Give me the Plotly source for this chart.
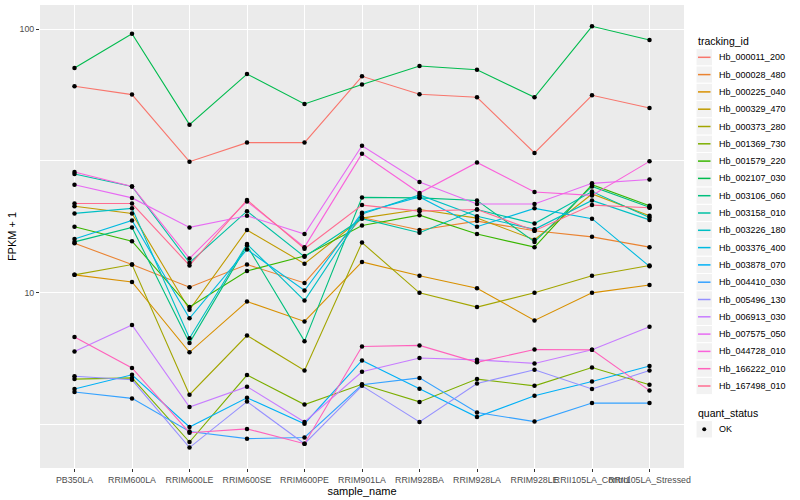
import plotly.graph_objects as go

samples = ["PB350LA", "RRIM600LA", "RRIM600LE", "RRIM600SE", "RRIM600PE", "RRIM901LA",
           "RRIM928BA", "RRIM928LA", "RRIM928LE", "RRII105LA_Control", "RRII105LA_Stressed"]

tracking_ids = ["Hb_000011_200", "Hb_000028_480", "Hb_000225_040", "Hb_000329_470", "Hb_000373_280",
                "Hb_001369_730", "Hb_001579_220", "Hb_002107_030", "Hb_003106_060", "Hb_003158_010",
                "Hb_003226_180", "Hb_003376_400", "Hb_003878_070", "Hb_004410_030", "Hb_005496_130",
                "Hb_006913_030", "Hb_007575_050", "Hb_044728_010", "Hb_166222_010", "Hb_167498_010"]

colors = ["#F8766D", "#EA8331", "#D89000", "#C09B00", "#A3A500", "#7CAE00", "#39B600", "#00BB4E",
          "#00BF7D", "#00C1A3", "#00BFC4", "#00BAE0", "#00B0F6", "#35A2FF", "#9590FF", "#C77CFF",
          "#E76BF3", "#FA62DB", "#FF62BC", "#FF6C91"]

# FPKM + 1 values, one list per tracking_id (order of samples)
hb_000011_200 = [60.7, 56.4, 31.4, 37.1, 37.1, 66.2, 56.6, 55.1, 33.9, 56.1, 50.2]
hb_000028_480 = [15.4, 12.8, 10.5, 12.8, 10.9, 19.3, 17.3, 18.7, 17.2, 16.3, 14.9]
hb_000225_040 = [11.7, 11.0, 5.95, 9.27, 7.79, 13.1, 11.6, 10.4, 7.86, 10.0, 10.7]
hb_000329_470 = [21.3, 20.0, 8.62, 17.3, 12.9, 19.2, 20.7, 19.2, 15.9, 23.7, 19.6]
hb_000373_280 = [11.7, 12.8, 4.11, 6.89, 5.08, 15.5, 10.0, 8.83, 10.0, 11.6, 12.7]
hb_001369_730 = [4.71, 4.76, 2.72, 4.88, 3.77, 4.50, 3.86, 4.71, 4.44, 5.21, 4.48]
hb_001579_220 = [17.8, 15.7, 8.83, 12.1, 13.8, 18.0, 19.7, 16.7, 14.9, 25.7, 21.4]
hb_002107_030 = [71.2, 96.0, 43.4, 67.5, 52.0, 61.6, 72.4, 70.1, 55.1, 102.4, 90.9]
hb_003106_060 = [15.6, 17.7, 6.46, 15.1, 6.56, 23.0, 22.9, 22.4, 15.6, 25.3, 21.1]
hb_003158_010 = [28.2, 25.3, 13.0, 20.4, 13.7, 19.1, 16.9, 20.7, 18.3, 24.2, 19.3]
hb_003226_180 = [20.0, 20.9, 6.73, 15.3, 9.35, 19.9, 23.5, 19.5, 17.4, 22.4, 18.9]
hb_003376_400 = [16.0, 18.8, 8.01, 14.6, 10.2, 20.1, 23.1, 17.8, 20.9, 19.1, 12.6]
hb_003878_070 = [4.32, 4.89, 3.10, 4.00, 3.19, 5.54, 4.33, 3.38, 4.07, 4.61, 5.28]
hb_004410_030 = [4.21, 3.98, 2.98, 2.80, 2.83, 4.48, 4.76, 3.52, 3.25, 3.82, 3.82]
hb_005496_130 = [4.83, 4.68, 2.59, 3.87, 2.68, 4.44, 3.24, 4.53, 5.11, 4.32, 5.08]
hb_006913_030 = [5.99, 7.55, 3.69, 4.41, 3.24, 5.02, 5.66, 5.57, 5.40, 6.08, 7.43]
hb_007575_050 = [25.7, 22.9, 17.7, 19.6, 16.7, 36.1, 26.3, 21.7, 21.7, 26.0, 26.9]
hb_044728_010 = [28.7, 25.3, 13.5, 22.2, 14.9, 33.7, 23.9, 31.2, 24.1, 23.4, 31.5]
hb_166222_010 = [6.80, 5.19, 2.95, 3.05, 2.68, 6.26, 6.32, 5.45, 6.10, 6.08, 4.26]
hb_167498_010 = [21.8, 21.8, 12.7, 22.5, 14.7, 21.5, 20.4, 20.7, 17.2, 21.5, 21.0]

series_values = [hb_000011_200, hb_000028_480, hb_000225_040, hb_000329_470, hb_000373_280,
                 hb_001369_730, hb_001579_220, hb_002107_030, hb_003106_060, hb_003158_010,
                 hb_003226_180, hb_003376_400, hb_003878_070, hb_004410_030, hb_005496_130,
                 hb_006913_030, hb_007575_050, hb_044728_010, hb_166222_010, hb_167498_010]

quant_levels = ["OK"]

FONT = "Liberation Sans, Arial, Helvetica, sans-serif"
W, H = 800, 500
ML, MR, MT, MB = 40, 116, 5, 32
PW, PH = W - ML - MR, H - MT - MB


def px(x):  # page pixel -> paper x
    return (x - ML) / PW


def py(y):  # page pixel -> paper y
    return (H - MB - y) / PH


fig = go.Figure()

for name, vals, col in zip(tracking_ids, series_values, colors):
    fig.add_trace(go.Scatter(
        x=samples, y=vals, mode="lines", name=name,
        line=dict(color=col, width=1.1), showlegend=False))

for name, vals in zip(tracking_ids, series_values):
    fig.add_trace(go.Scatter(
        x=samples, y=vals, mode="markers", name=quant_levels[0],
        marker=dict(color="black", size=4.5, symbol="circle"), showlegend=False))

# ---- manual ggplot-style legends ----
shapes = []
annotations = []
LEG_X = 696
KEY_W = 16.5
STEP = 17.3
annotations.append(dict(text="tracking_id", x=px(LEG_X), y=py(41), xref="paper", yref="paper",
                        xanchor="left", yanchor="middle", showarrow=False,
                        font=dict(size=10.5, color="black", family=FONT)))
for i, (name, col) in enumerate(zip(tracking_ids, colors)):
    cy = 57.3 + i * STEP
    shapes.append(dict(type="rect", xref="paper", yref="paper",
                       x0=px(LEG_X), x1=px(LEG_X + KEY_W), y0=py(cy - STEP / 2), y1=py(cy + STEP / 2),
                       fillcolor="#F2F2F2", line=dict(color="white", width=1), layer="above"))
    shapes.append(dict(type="line", xref="paper", yref="paper",
                       x0=px(LEG_X + 2), x1=px(LEG_X + KEY_W - 2), y0=py(cy), y1=py(cy),
                       line=dict(color=col, width=1.5), layer="above"))
    annotations.append(dict(text=name, x=px(716.5), y=py(cy), xref="paper", yref="paper",
                            xanchor="left", yanchor="middle", showarrow=False,
                            font=dict(size=9, color="black", family=FONT)))

annotations.append(dict(text="quant_status", x=px(LEG_X), y=py(412.7), xref="paper", yref="paper",
                        xanchor="left", yanchor="middle", showarrow=False,
                        font=dict(size=10.5, color="black", family=FONT)))
for j, lvl in enumerate(quant_levels):
    cy = 429.3 + j * STEP
    shapes.append(dict(type="rect", xref="paper", yref="paper",
                       x0=px(LEG_X), x1=px(LEG_X + KEY_W), y0=py(cy - STEP / 2), y1=py(cy + STEP / 2),
                       fillcolor="#F2F2F2", line=dict(color="white", width=1), layer="above"))
    shapes.append(dict(type="circle", xref="paper", yref="paper",
                       x0=px(LEG_X + KEY_W / 2 - 2), x1=px(LEG_X + KEY_W / 2 + 2),
                       y0=py(cy - 2), y1=py(cy + 2),
                       fillcolor="black", line=dict(color="black", width=0), layer="above"))
    annotations.append(dict(text=lvl, x=px(716.5), y=py(cy), xref="paper", yref="paper",
                            xanchor="left", yanchor="middle", showarrow=False,
                            font=dict(size=9, color="black", family=FONT)))

fig.update_layout(
    width=W, height=H,
    margin=dict(l=ML, r=MR, t=MT, b=MB, autoexpand=False),
    plot_bgcolor="#EBEBEB", paper_bgcolor="white",
    font=dict(family=FONT, color="black"),
    showlegend=False,
    shapes=shapes, annotations=annotations,
    xaxis=dict(
        type="category", range=[-0.6, 10.6],
        showgrid=True, gridcolor="white", gridwidth=1.1,
        zeroline=False, showline=False,
        ticks="outside", ticklen=3, tickcolor="#333333", tickwidth=1,
        tickangle=0, tickfont=dict(size=8.8, color="#4D4D4D", family=FONT),
        title=dict(text="sample_name", font=dict(size=11, color="black"), standoff=1),
        automargin=True,
    ),
    yaxis=dict(
        type="log", range=[0.336, 2.091],
        tickmode="array", tickvals=[10, 100], ticktext=["10", "100"],
        showgrid=True, gridcolor="white", gridwidth=1.1,
        zeroline=False, showline=False,
        ticks="outside", ticklen=3, tickcolor="#333333", tickwidth=1,
        tickfont=dict(size=8.8, color="#4D4D4D", family=FONT),
        minor=dict(tickmode="array", tickvals=[3.1623, 31.623], showgrid=True,
                   gridcolor="white", gridwidth=0.55, ticklen=0),
        title=dict(text="FPKM + 1", font=dict(size=11, color="black"), standoff=0),
        automargin=True,
    ),
)

fig.write_html("out.html", config={"displayModeBar": False},
               post_script="document.body.style.margin='0';document.body.style.overflow='hidden';")
